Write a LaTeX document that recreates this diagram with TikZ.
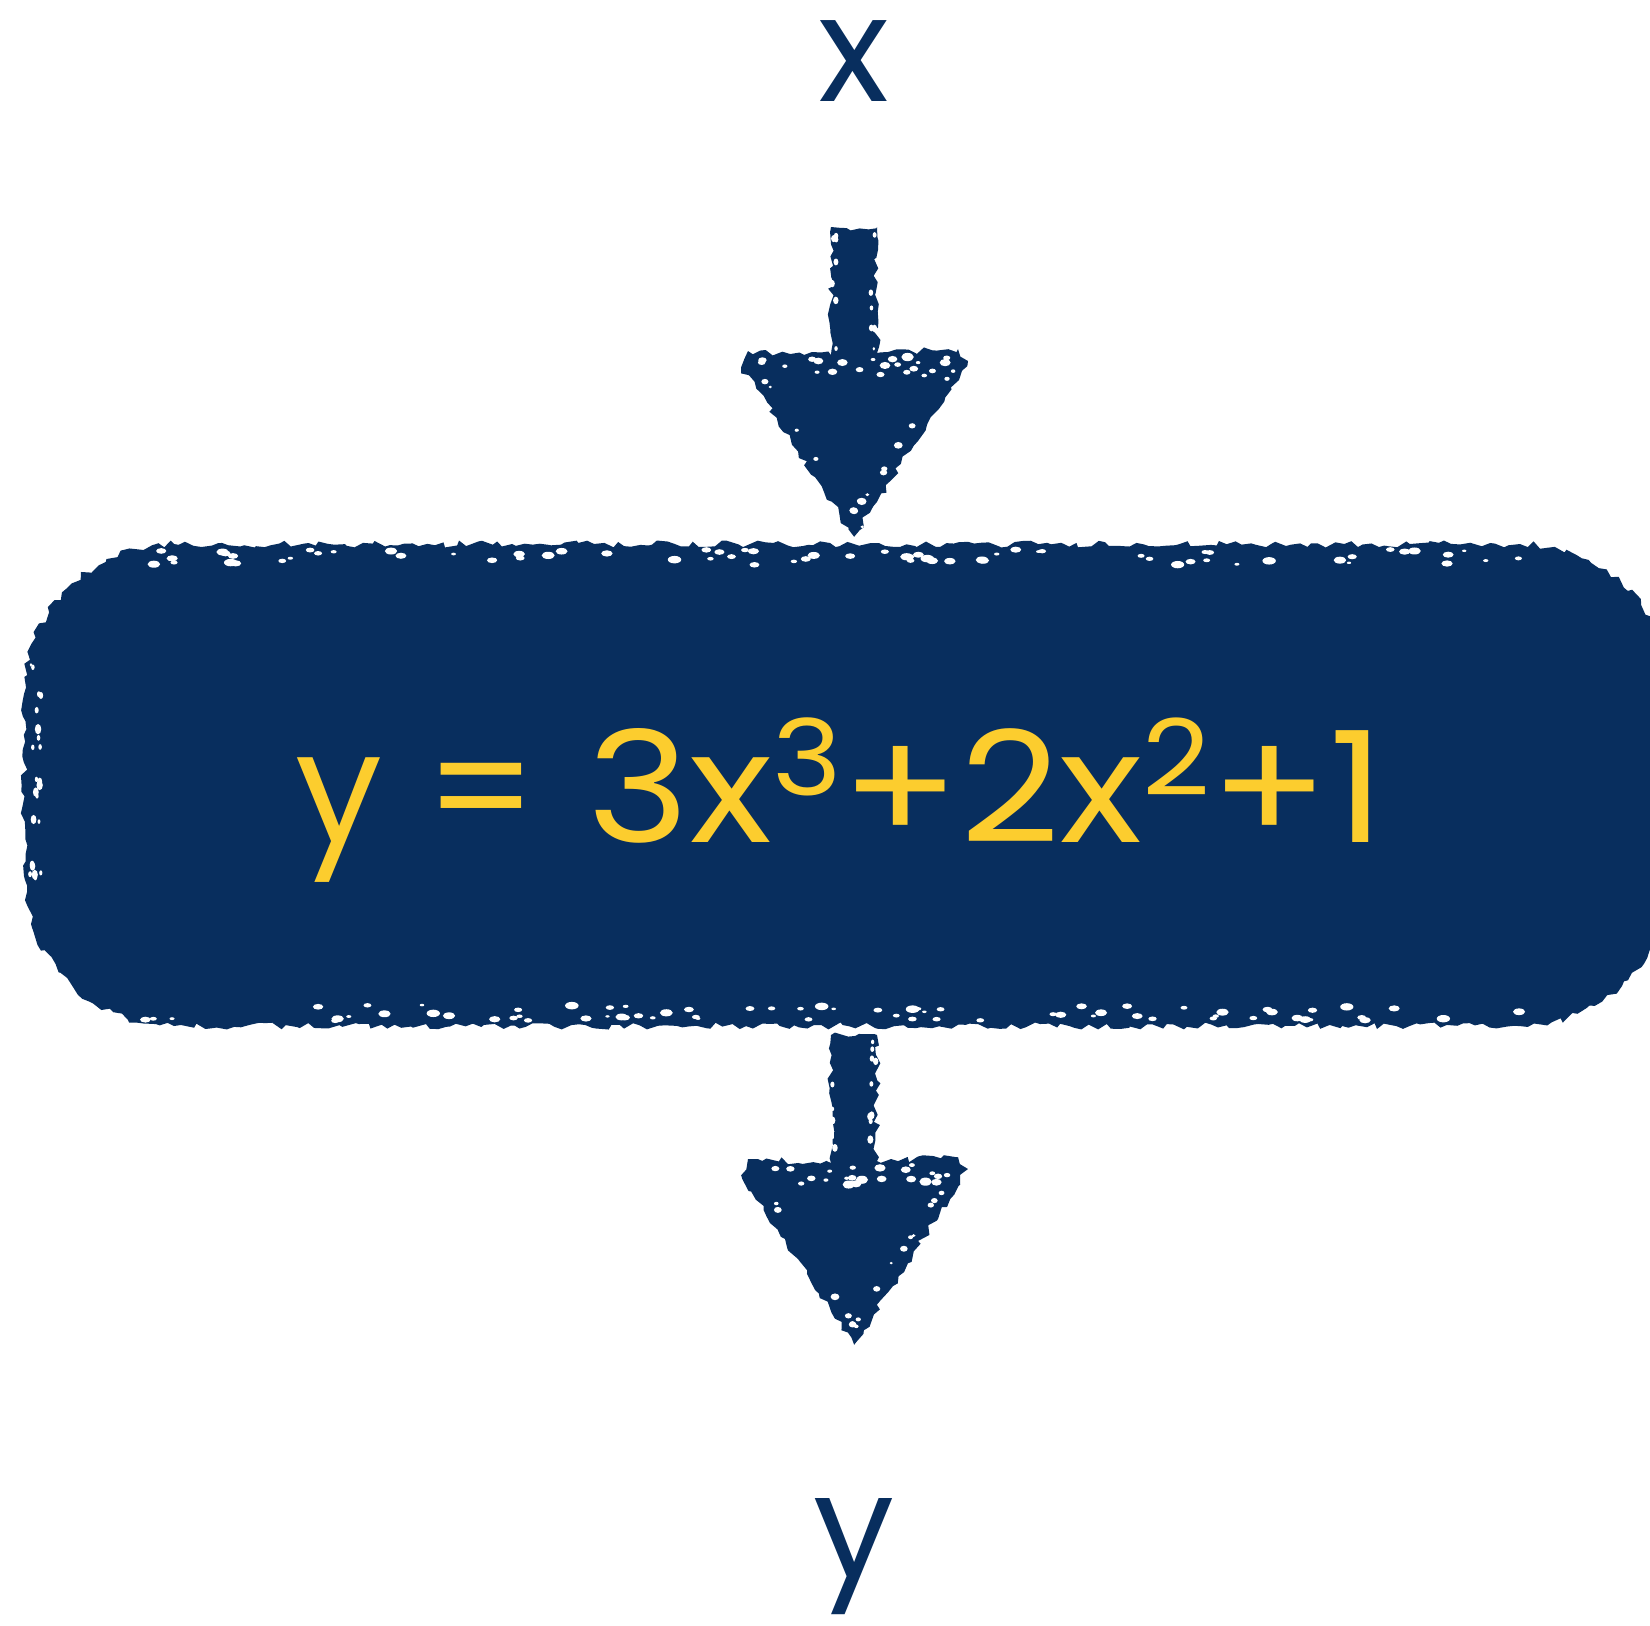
\documentclass[tikz,border=0pt]{standalone}
\usepackage{fontspec}
\setmainfont{Poppins}
\usetikzlibrary{decorations.pathmorphing,calc}
\definecolor{navy}{RGB}{8,46,94}
\definecolor{gold}{RGB}{252,205,46}
\tikzset{
  rough/.style={decorate,decoration={random steps,segment length=2pt,amplitude=1pt}},
  fatarrow/.style={fill=navy,rough},
  lbl/.style={text=navy,font=\fontsize{42}{48}\selectfont,inner sep=0pt},
  eqn/.style={text=gold,font=\fontsize{44}{50}\selectfont,inner sep=0pt},
  speck/.style={fill=white}
}
\newcommand\drawfat[1]{%
  \fill[fatarrow]
    ($(#1)+(-23,0)$) -- ($(#1)+(23,0)$) -- ($(#1)+(23,126)$) -- ($(#1)+(104,122)$)
    -- ($(#1)+(114,134)$) -- ($(#1)+(0,310)$) -- ($(#1)+(-113,140)$)
    -- ($(#1)+(-106,124)$) -- ($(#1)+(-23,128)$) -- cycle;
  \foreach \i in {1,...,22}{
    \pgfmathsetmacro\sx{-95+190*rnd}
    \pgfmathsetmacro\sy{130+20*rnd}
    \pgfmathsetmacro\rr{1.5+3*rnd}
    \fill[speck] ($(#1)+(\sx,\sy)$) ellipse[x radius=\rr*1.5,y radius=\rr];}
  \foreach \i in {1,...,14}{
    \pgfmathsetmacro\sy{4+120*rnd}
    \pgfmathsetmacro\sx{(rnd<0.5?-1:1)*(16+6*rnd)}
    \pgfmathsetmacro\rr{1.2+2*rnd}
    \fill[speck] ($(#1)+(\sx,\sy)$) ellipse[x radius=\rr,y radius=\rr*1.4];}
  \foreach \i in {1,...,16}{
    \pgfmathsetmacro\t{rnd}
    \pgfmathsetmacro\sy{140+160*\t}
    \pgfmathsetmacro\sx{(rnd<0.5?-1:1)*(108*(1-\t)-6-6*rnd)}
    \pgfmathsetmacro\rr{1.2+2.5*rnd}
    \fill[speck] ($(#1)+(\sx,\sy)$) ellipse[x radius=\rr*1.3,y radius=\rr];}
}
\begin{document}
\begin{tikzpicture}[x=0.01cm,y=-0.01cm]
\pgfmathsetseed{4321}
\useasboundingbox (0,0) rectangle (1650,1626);
\begin{scope}
\clip (0,0) rectangle (1650,1626);
\fill[navy,rough] (174,544) -- (1520,544) arc[start angle=-90,end angle=0,radius=150]
  -- (1670,876) arc[start angle=0,end angle=90,radius=150]
  -- (174,1026) arc[start angle=90,end angle=180,radius=150]
  -- (24,694) arc[start angle=180,end angle=270,radius=150] -- cycle;
\foreach \i in {1,...,70}{
  \pgfmathsetmacro\sx{130+1400*rnd}
  \pgfmathsetmacro\sy{549+16*rnd}
  \pgfmathsetmacro\rr{1.2+2.6*rnd}
  \fill[speck] (\sx,\sy) ellipse[x radius=\rr*1.8,y radius=\rr];}
\foreach \i in {1,...,70}{
  \pgfmathsetmacro\sx{130+1400*rnd}
  \pgfmathsetmacro\sy{1021-16*rnd}
  \pgfmathsetmacro\rr{1.2+2.6*rnd}
  \fill[speck] (\sx,\sy) ellipse[x radius=\rr*1.8,y radius=\rr];}
\foreach \i in {1,...,22}{
  \pgfmathsetmacro\sy{660+240*rnd}
  \pgfmathsetmacro\sx{29+12*rnd}
  \pgfmathsetmacro\rr{1.2+2.2*rnd}
  \fill[speck] (\sx,\sy) ellipse[x radius=\rr,y radius=\rr*1.6];}
\end{scope}
\node[eqn,anchor=base] (eq) at (840,842)
  {y\hspace{0.28em}=\hspace{0.32em}\scalebox{1.12}[1]{3x\raisebox{0.3em}{\fontsize{30}{30}\selectfont 3}+2x\raisebox{0.3em}{\fontsize{30}{30}\selectfont 2}+1}};
\node[lbl,anchor=base] (xin) at (854,101) {x};
\node[lbl,anchor=base,font=\fontsize{41}{46}\selectfont] (yout) at (854,1577) {y};
\coordinate (a1) at (854,227);
\coordinate (a2) at (854,1035);
\drawfat{a1}
\drawfat{a2}
\end{tikzpicture}
\end{document}
